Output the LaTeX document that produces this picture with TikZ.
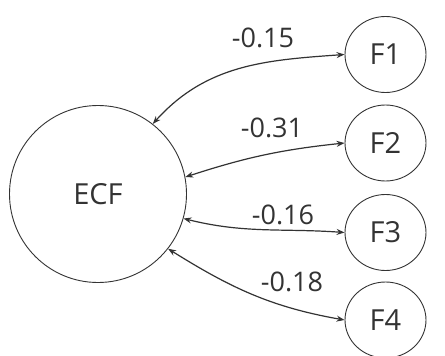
\documentclass[tikz,border=0pt]{standalone}
\usepackage{fontspec}
\setmainfont{Open Sans}
\usetikzlibrary{arrows.meta,shapes.geometric}
\definecolor{ink}{HTML}{333333}
\tikzset{
  bigc/.style={circle, draw=ink, line width=0.9pt, minimum size=177pt, inner sep=0pt, font=\fontsize{29}{30}\selectfont, text=ink},
  smallc/.style={ellipse, draw=ink, line width=0.9pt, minimum width=81pt, minimum height=76pt, inner sep=0pt, font=\fontsize{29}{30}\selectfont, text=ink},
  corr/.style={{Stealth[length=8pt,width=6pt]}-{Stealth[length=8pt,width=6pt]}, draw=ink, line width=1.2pt},
  lab/.style={font=\fontsize{27}{28}\selectfont, text=ink, inner sep=0pt}
}
\begin{document}
\begin{tikzpicture}[x=1pt,y=-1pt]
\useasboundingbox (0,0) rectangle (445,356);
\node[bigc] (ecf) at (98,194) {ECF};
\node[smallc] (f1) at (385.5,54.5) {F1};
\node[smallc] (f2) at (385.5,143) {F2};
\node[smallc] (f3) at (385.5,232.5) {F3};
\node[smallc] (f4) at (385.5,320) {F4};
\draw[corr] (ecf.52) to[out=48,in=184] (f1.west);
\draw[corr] (ecf.11) to[out=18,in=186] (f2.west);
\draw[corr] (ecf.-16) to[out=-14,in=176] (f3.west);
\draw[corr] (ecf.-38) to[out=-32,in=170] (f4.west);
\node[lab] (l1) at (263,38) {-0.15};
\node[lab] (l2) at (272,128) {-0.31};
\node[lab] (l3) at (283,215) {-0.16};
\node[lab] (l4) at (292,282) {-0.18};
\end{tikzpicture}
\end{document}
